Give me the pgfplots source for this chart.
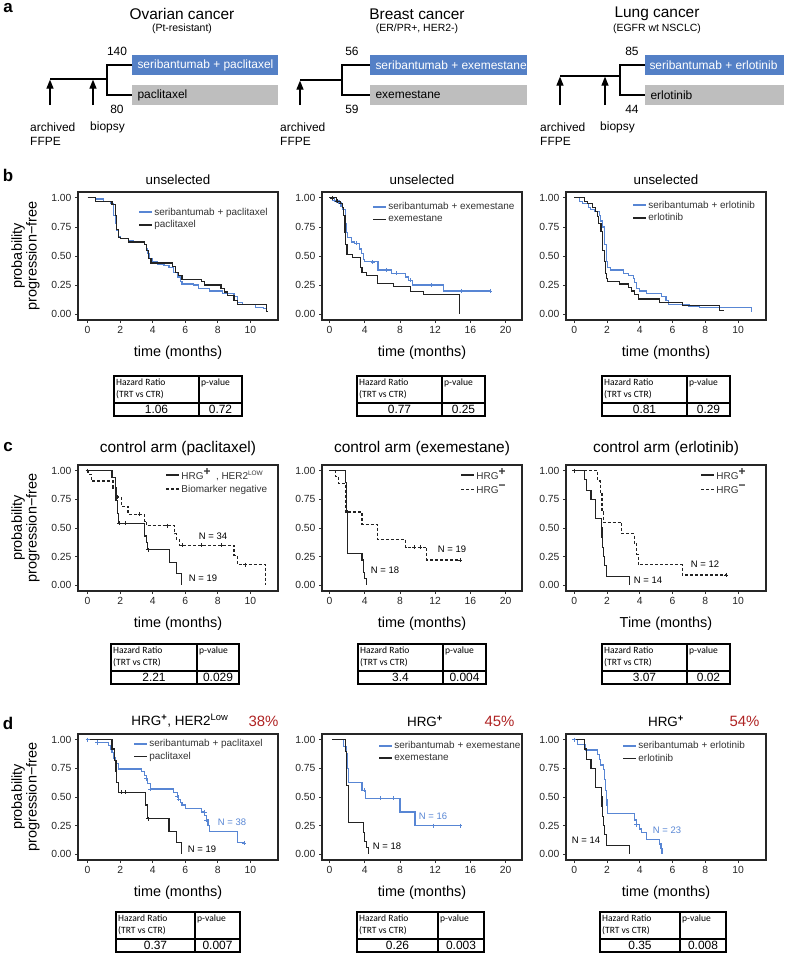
\documentclass[border=0pt]{standalone}
\usepackage{fontspec}
\setmainfont{Liberation Sans}
\newfontfamily\carlito{Carlito}
\usepackage{pgfplots}
\pgfplotsset{compat=1.18}
\usetikzlibrary{arrows.meta}
\definecolor{kmblue}{RGB}{88,134,212}
\definecolor{boxblue}{RGB}{84,128,198}
\definecolor{boxgray}{RGB}{190,190,190}
\definecolor{kmdark}{RGB}{35,35,35}
\definecolor{pctred}{RGB}{175,35,35}
\newcommand{\fs}[1]{\fontsize{#1}{#1}\selectfont}
\pgfplotsset{
  km/.style={scale only axis, width=200bp, height=128bp, anchor=north west,
    ymin=-0.05, ymax=1.05, ytick={0,0.25,0.5,0.75,1},
    yticklabels={0.00,0.25,0.50,0.75,1.00},
    tick align=outside, xtick pos=bottom, ytick pos=left,
    major tick length=3bp,
    every tick/.style={black!80, line width=0.8bp},
    axis line style={black!85, line width=1.1bp},
    tick label style={font=\fs{10.4}, text=black!85},
    /pgf/number format/assume math mode=true,
    legend cell align=left,
    legend style={draw=none, fill=none, font=\fs{10}, anchor=north west,
      inner sep=0pt, row sep=0.8bp, nodes={inner sep=1.6bp, text=black!80}},
    legend image code/.code={\draw[##1, line width=1.6bp] (0bp,0bp) -- (13bp,0bp);},
  },
  xa/.style={xmin=-0.59, xmax=11.7, xtick={0,2,4,6,8,10}},
  xb/.style={xmin=-0.85, xmax=21.85, xtick={0,4,8,12,16,20}},
  xc/.style={xmin=-0.5, xmax=11.7, xtick={0,2,4,6,8,10}},
  trt/.style={const plot, color=kmblue, line width=1.2bp, mark=none},
  ctr/.style={const plot, color=kmdark, line width=1.2bp, mark=none},
  ctrd/.style={const plot, color=kmdark, line width=1.2bp, mark=none, dash pattern=on 3bp off 2bp},
  cens/.style={only marks, mark=+, mark size=2bp, line width=0.6bp},
}
\newcommand{\hrtable}[6]{%
  \draw[line width=1.1bp] (#1,#4) rectangle (#2,{#4+40});
  \draw[line width=1.6bp] (#1,{#4+27}) -- (#2,{#4+27});
  \draw[line width=1.1bp] (#3,#4) -- (#3,{#4+40});
  \node[anchor=north west, align=left, font=\carlito\fontsize{9.6}{12.5}\selectfont, inner sep=0pt] at ({#1+2},{#4+2.5}) {Hazard Ratio\\(TRT vs CTR)};
  \node[anchor=north west, font=\carlito\fs{9.6}, inner sep=0pt] at ({#3+2},{#4+2.5}) {p-value};
  \node[font=\fs{12}, inner sep=0pt] at ({(#1+#3)/2},{#4+33.8}) {#5};
  \node[font=\fs{12}, inner sep=0pt] at ({(#3+#2)/2},{#4+33.8}) {#6};
}
\begin{document}
\begin{tikzpicture}
\useasboundingbox (0,0) rectangle (787bp,-957bp);

% ================= panel b =================
\begin{axis}[km, xa, at={(78bp,-192bp)},
  legend style={at={(0.30,0.89)}}]
\addplot[trt] coordinates {(0,1)(0.5,0.99)(1.0,0.97)(1.4,0.95)(1.6,0.85)(1.7,0.78)(1.8,0.72)(1.9,0.67)(2.0,0.65)(2.5,0.63)(2.8,0.62)(3.5,0.60)(3.6,0.56)(3.7,0.52)(3.8,0.48)(4.0,0.45)(4.3,0.43)(4.7,0.42)(5.0,0.40)(5.3,0.36)(5.5,0.32)(5.7,0.28)(5.8,0.26)(6.5,0.25)(6.8,0.22)(7.5,0.20)(8.3,0.18)(9.0,0.15)(9.2,0.10)(9.5,0.08)(10.3,0.06)(10.8,0.05)(11.0,0.02)(11.1,0.02)};
\addlegendentry{seribantumab + paclitaxel}
\addplot[ctr] coordinates {(0,1)(0.5,0.97)(1.5,0.94)(1.7,0.85)(1.8,0.73)(1.9,0.66)(2.0,0.65)(2.5,0.62)(3.5,0.60)(3.6,0.55)(3.75,0.48)(3.9,0.44)(5.2,0.41)(5.4,0.36)(5.6,0.33)(5.8,0.30)(7.0,0.28)(7.2,0.25)(8.2,0.22)(8.4,0.19)(8.6,0.16)(9.0,0.12)(9.2,0.08)(11.0,0.07)(11.0,0.02)(11.1,0.02)};
\addlegendentry{paclitaxel}
\end{axis}

\begin{axis}[km, xb, at={(322bp,-192bp)},
  legend style={at={(0.25,0.93)}}]
\addplot[trt] coordinates {(0,1)(0.57,0.98)(1.07,0.96)(1.3,0.93)(1.52,0.90)(1.83,0.78)(1.9,0.70)(2.0,0.66)(2.5,0.62)(2.86,0.61)(3.45,0.56)(3.62,0.52)(3.9,0.47)(4.0,0.45)(5.5,0.38)(7.05,0.35)(8.65,0.32)(9.0,0.29)(9.45,0.25)(12.9,0.20)(18.2,0.20)};
\addlegendentry{seribantumab + exemestane}
\addplot[ctr] coordinates {(0,1)(0.8,0.97)(1.2,0.95)(1.5,0.92)(1.6,0.85)(1.75,0.70)(1.83,0.60)(1.98,0.515)(2.6,0.49)(3.5,0.40)(3.7,0.357)(4.2,0.33)(5.45,0.265)(7.24,0.24)(9.2,0.198)(10.7,0.166)(14.8,0)};
\addlegendentry{exemestane}
\addplot[cens, color=kmblue, forget plot] coordinates {(0.5,0.98)(1.0,0.96)(3.0,0.61)(4.9,0.45)(6.4,0.38)(7.6,0.35)(9.2,0.29)(11.6,0.25)(15.0,0.20)(18.2,0.20)};
\addplot[cens, color=kmdark, forget plot] coordinates {(0.3,1)(0.9,0.97)};
\end{axis}

\begin{axis}[km, xc, at={(566bp,-192bp)},
  legend style={at={(0.33,0.945)}}]
\addplot[trt] coordinates {(0,1)(0.3,0.97)(0.5,0.95)(0.85,0.92)(1.0,0.90)(1.26,0.88)(1.52,0.85)(1.6,0.80)(1.71,0.75)(1.85,0.60)(1.97,0.45)(2.03,0.40)(2.2,0.38)(3.0,0.35)(3.3,0.33)(3.6,0.31)(3.7,0.27)(3.8,0.22)(4.0,0.20)(4.41,0.18)(5.33,0.15)(5.6,0.12)(5.73,0.08)(7.0,0.07)(7.66,0.06)(9.5,0.055)(10.8,0.02)};
\addlegendentry{seribantumab + erlotinib}
\addplot[ctr] coordinates {(0,1)(0.61,0.97)(0.8,0.95)(1.1,0.92)(1.3,0.88)(1.4,0.84)(1.5,0.78)(1.63,0.71)(1.72,0.55)(1.83,0.45)(1.9,0.35)(1.95,0.31)(2.01,0.28)(2.78,0.26)(3.29,0.23)(3.5,0.20)(3.7,0.17)(3.9,0.13)(5.18,0.10)(6.59,0.072)(8.88,0.03)(9.13,0.03)};
\addlegendentry{erlotinib}
\end{axis}

% ================= panel c =================
\begin{axis}[km, xa, height=126bp, at={(78bp,-465bp)},
  legend style={at={(0.435,0.985)}}]
\addplot[ctr] coordinates {(0,1)(1.5,0.94)(1.7,0.84)(1.75,0.74)(1.82,0.63)(1.92,0.54)(3.5,0.43)(3.6,0.37)(3.7,0.31)(5.05,0.20)(5.45,0.10)(5.76,0)};
\addlegendentry{HRG\textsuperscript{\textbf{\large +}}\enspace, HER2\textsuperscript{\fs{6.5}LOW}}
\addplot[ctrd] coordinates {(0,1)(0.05,0.97)(0.24,0.91)(1.56,0.85)(1.8,0.77)(2.06,0.69)(2.48,0.62)(3.5,0.56)(3.6,0.52)(5.35,0.45)(5.45,0.40)(5.66,0.35)(9.0,0.26)(9.2,0.18)(10.95,0.0)};
\addlegendentry{Biomarker negative}
\addplot[cens, color=kmdark, forget plot] coordinates {(0,1)(1.92,0.54)(2.3,0.54)(3.7,0.31)(1.8,0.77)(3.2,0.62)(4.9,0.52)(5.8,0.35)(7.0,0.35)(8.2,0.35)(9.7,0.18)};
\end{axis}

\begin{axis}[km, xb, height=126bp, at={(322bp,-465bp)},
  legend style={at={(0.69,0.985)}}]
\addplot[ctr] coordinates {(0,1)(1.8,0.90)(1.9,0.65)(2.0,0.28)(3.7,0.22)(3.85,0.11)(4.0,0.06)(4.2,0)};
\addlegendentry{HRG\textsuperscript{\textbf{\large +}}}
\addplot[ctrd] coordinates {(0,1)(0.65,0.95)(1.0,0.89)(1.83,0.64)(3.7,0.53)(5.45,0.40)(8.65,0.33)(11.05,0.22)(14.8,0.22)};
\addlegendentry{HRG\textsuperscript{\textbf{\large −}}}
\addplot[cens, color=kmdark, forget plot] coordinates {(9.6,0.33)(10.3,0.33)(14.8,0.22)};
\end{axis}

\begin{axis}[km, xc, height=126bp, at={(566bp,-465bp)},
  legend style={at={(0.67,0.985)}}]
\addplot[ctr] coordinates {(0,1)(0.61,0.92)(0.75,0.83)(1.02,0.75)(1.32,0.58)(1.65,0.50)(1.7,0.42)(1.75,0.33)(1.81,0.25)(1.87,0.17)(1.95,0.08)(3.39,0)};
\addlegendentry{HRG\textsuperscript{\textbf{\large +}}}
\addplot[ctrd] coordinates {(0,1)(1.42,0.91)(1.6,0.80)(1.7,0.64)(1.77,0.55)(2.89,0.45)(3.66,0.36)(3.8,0.27)(3.9,0.18)(6.6,0.09)(9.25,0.09)};
\addlegendentry{HRG\textsuperscript{\textbf{\large −}}}
\addplot[cens, color=kmdark, forget plot] coordinates {(0,1)(9.25,0.09)};
\end{axis}

% ================= panel d =================
\begin{axis}[km, xa, height=126bp, at={(78bp,-734bp)},
  legend style={at={(0.275,0.97)}}]
\addplot[trt] coordinates {(0,1)(0.6,0.974)(1.3,0.95)(1.4,0.92)(1.5,0.89)(1.6,0.84)(1.7,0.79)(1.9,0.745)(3.3,0.72)(3.5,0.69)(3.6,0.66)(3.7,0.62)(3.85,0.57)(5.3,0.54)(5.5,0.51)(5.6,0.48)(5.7,0.45)(5.8,0.43)(6.0,0.40)(7.0,0.37)(7.2,0.34)(7.3,0.30)(7.4,0.25)(7.5,0.20)(9.2,0.10)(9.6,0.10)};
\addlegendentry{seribantumab + paclitaxel}
\addplot[ctr] coordinates {(0,1)(1.5,0.92)(1.65,0.82)(1.75,0.72)(1.8,0.63)(1.9,0.54)(3.55,0.43)(3.7,0.31)(5.0,0.20)(5.45,0.10)(5.75,0)};
\addlegendentry{paclitaxel}
\addplot[cens, color=kmblue, forget plot] coordinates {(0,1)(0.6,0.974)(3.6,0.66)(3.85,0.57)(5.5,0.51)(5.6,0.48)(7.2,0.37)(7.3,0.30)(9.6,0.10)};
\addplot[cens, color=kmdark, forget plot] coordinates {(2.1,0.54)(2.3,0.54)(3.7,0.31)};
\end{axis}

\begin{axis}[km, xb, height=126bp, at={(322bp,-734bp)},
  legend style={at={(0.28,0.955)}}]
\addplot[trt] coordinates {(0.3,1)(1.6,0.94)(1.9,0.875)(2.0,0.75)(2.2,0.625)(3.7,0.56)(4.1,0.49)(8.0,0.37)(9.7,0.25)(14.8,0.25)};
\addlegendentry{seribantumab + exemestane}
\addplot[ctr] coordinates {(0.3,1)(1.83,0.9)(1.95,0.6)(2.17,0.28)(3.9,0.19)(4.0,0.11)(4.2,0.06)(4.4,0)};
\addlegendentry{exemestane}
\addplot[cens, color=kmblue, forget plot] coordinates {(3.9,0.56)(5.8,0.49)(7.2,0.49)(11.8,0.25)(14.8,0.25)};
\end{axis}

\begin{axis}[km, xc, height=126bp, at={(566bp,-734bp)},
  legend style={at={(0.28,0.955)}}]
\addplot[trt] coordinates {(0,1)(0.2,0.96)(0.7,0.91)(1.4,0.87)(1.52,0.83)(1.6,0.78)(1.8,0.74)(1.83,0.65)(1.9,0.56)(1.95,0.48)(2.0,0.43)(2.03,0.355)(3.7,0.30)(3.8,0.26)(4.0,0.22)(4.1,0.19)(4.41,0.128)(5.2,0.09)(5.3,0.05)(5.35,0)};
\addlegendentry{seribantumab + erlotinib}
\addplot[ctr] coordinates {(0,1)(0.61,0.92)(0.75,0.83)(1.02,0.75)(1.32,0.58)(1.65,0.50)(1.7,0.42)(1.75,0.33)(1.81,0.25)(1.87,0.17)(1.95,0.08)(3.39,0)};
\addlegendentry{erlotinib}
\addplot[cens, color=kmblue, forget plot] coordinates {(0,1)(3.8,0.26)};
\end{axis}

% ================= annotations =================
\begin{scope}[x=1bp, y=-1bp]
% panel letters
\foreach \l/\yy in {a/8, b/175, c/447, d/723}
  \node[font=\bfseries\fs{17}, inner sep=0pt] at (8,\yy) {\l};

% ---- panel a ----
\node[font=\fs{15.5}] at (182,14) {Ovarian cancer};
\node[font=\fs{10.5}] at (182,29) {(Pt-resistant)};
\node[font=\fs{15.5}] at (417,14) {Breast cancer};
\node[font=\fs{10.5}] at (417,29) {(ER/PR+, HER2-)};
\node[font=\fs{15.5}] at (657,14) {Lung cancer};
\node[font=\fs{10.5}] at (657,29) {(EGFR wt NSCLC)};

% ovarian
\fill[boxblue] (132,55) rectangle (278,75);
\fill[boxgray] (132,85) rectangle (278,105);
\node[anchor=west, text=white, font=\fs{12}] at (134,65) {seribantumab + paclitaxel};
\node[anchor=west, font=\fs{12}] at (134,95) {paclitaxel};
\node[font=\fs{12}] at (117,51) {140};
\node[font=\fs{12}] at (117,109) {80};
\draw[line width=1.2bp] (50,79) -- (107,79);
\draw[line width=1.2bp] (132,65) -- (107,65) -- (107,95) -- (132,95);
\draw[line width=1.2bp, -{Triangle[width=7bp,length=9bp]}] (50,105) -- (50,79.6);
\draw[line width=1.2bp, -{Triangle[width=7bp,length=9bp]}] (93,105) -- (93,79.6);
\node[anchor=west, font=\fs{12}, inner sep=0pt] at (30,127) {archived};
\node[anchor=west, font=\fs{12}, inner sep=0pt] at (90,127) {biopsy};
\node[anchor=west, font=\fs{12}, inner sep=0pt] at (30,141) {FFPE};

% breast
\fill[boxblue] (370,55) rectangle (527,75);
\fill[boxgray] (370,85) rectangle (527,105);
\node[anchor=west, text=white, font=\fs{12}] at (372,65) {seribantumab + exemestane};
\node[anchor=west, font=\fs{12}] at (372,95) {exemestane};
\node[font=\fs{12}] at (352,51) {56};
\node[font=\fs{12}] at (352,109) {59};
\draw[line width=1.2bp] (300,80) -- (342,80);
\draw[line width=1.2bp] (370,65) -- (342,65) -- (342,95) -- (370,95);
\draw[line width=1.2bp, -{Triangle[width=7bp,length=9bp]}] (300,105) -- (300,80.6);
\node[anchor=west, font=\fs{12}, inner sep=0pt] at (280,127) {archived};
\node[anchor=west, font=\fs{12}, inner sep=0pt] at (280,141) {FFPE};

% lung
\fill[boxblue] (645,55) rectangle (784,75);
\fill[boxgray] (645,85) rectangle (784,105);
\node[anchor=west, text=white, font=\fs{12}] at (646,65) {seribantumab + erlotinib};
\node[anchor=west, font=\fs{12}] at (647,95) {erlotinib};
\node[font=\fs{12}] at (632,51) {85};
\node[font=\fs{12}] at (632,109) {44};
\draw[line width=1.2bp] (560,76) -- (620,76);
\draw[line width=1.2bp] (645,65) -- (620,65) -- (620,95) -- (645,95);
\draw[line width=1.2bp, -{Triangle[width=7bp,length=9bp]}] (560,105) -- (560,76.6);
\draw[line width=1.2bp, -{Triangle[width=7bp,length=9bp]}] (605,105) -- (605,76.6);
\node[anchor=west, font=\fs{12}, inner sep=0pt] at (540,127) {archived};
\node[anchor=west, font=\fs{12}, inner sep=0pt] at (600,127) {biopsy};
\node[anchor=west, font=\fs{12}, inner sep=0pt] at (540,141) {FFPE};

% ---- y labels ----
\foreach \yy in {256, 528, 797}
  \node[rotate=90, align=center, font=\fontsize{14.5}{15}\selectfont] at (25.5,\yy) {probability\\progression−free};

% ---- titles ----
\foreach \xx in {178, 422, 666}
  \node[font=\fs{13.4}] at (\xx,180) {unselected};
\node[font=\fs{15.5}] at (178,449) {control arm (paclitaxel)};
\node[font=\fs{15.5}] at (422,449) {control arm (exemestane)};
\node[font=\fs{15.5}] at (666,449) {control arm (erlotinib)};
\node[font=\fs{13.5}] at (180,721) {HRG\textsuperscript{\textbf{+}}, HER2\textsuperscript{Low}};
\node[font=\fs{13.5}] at (425,721) {HRG\textsuperscript{\textbf{+}}};
\node[font=\fs{13.5}] at (666,721) {HRG\textsuperscript{\textbf{+}}};
\node[font=\fs{15}, text=pctred, anchor=east] at (282,721) {38\%};
\node[font=\fs{15}, text=pctred, anchor=east] at (518,721) {45\%};
\node[font=\fs{15}, text=pctred, anchor=east] at (763,721) {54\%};

% ---- x labels ----
\foreach \xx in {178, 422} {
  \node[font=\fs{14.5}] at (\xx,353) {time (months)};
  \node[font=\fs{14.5}] at (\xx,624) {time (months)};
  \node[font=\fs{14.5}] at (\xx,893) {time (months)};
}
\node[font=\fs{14.5}] at (666,353) {time (months)};
\node[font=\fs{14.5}] at (666,624) {Time (months)};
\node[font=\fs{14.5}] at (666,893) {time (months)};

% ---- N labels ----
\node[font=\fs{9.5}] at (213,536) {N = 34};
\node[font=\fs{9.5}] at (203,578) {N = 19};
\node[font=\fs{9.5}] at (452,549) {N = 19};
\node[font=\fs{9.5}] at (385,570) {N = 18};
\node[font=\fs{9.5}] at (705,564) {N = 12};
\node[font=\fs{9.5}] at (648,580) {N = 14};
\node[font=\fs{9.5}, text=kmblue] at (232,822) {N = 38};
\node[font=\fs{9.5}] at (202,849) {N = 19};
\node[font=\fs{9.5}, text=kmblue] at (433,816) {N = 16};
\node[font=\fs{9.5}] at (387,846) {N = 18};
\node[font=\fs{9.5}, text=kmblue] at (667,830) {N = 23};
\node[font=\fs{9.5}] at (586,840) {N = 14};

% ---- tables ----
\hrtable{114}{242}{199}{376}{1.06}{0.72}
\hrtable{357}{485}{442}{376}{0.77}{0.25}
\hrtable{602}{730}{687}{376}{0.81}{0.29}
\hrtable{111}{239}{197}{644}{2.21}{0.029}
\hrtable{358}{486}{443}{644}{3.4}{0.004}
\hrtable{602}{730}{687}{644}{3.07}{0.02}
\hrtable{116}{240}{195}{912}{0.37}{0.007}
\hrtable{357}{484}{438}{912}{0.26}{0.003}
\hrtable{600}{726}{680}{912}{0.35}{0.008}
\end{scope}
\end{tikzpicture}
\end{document}
